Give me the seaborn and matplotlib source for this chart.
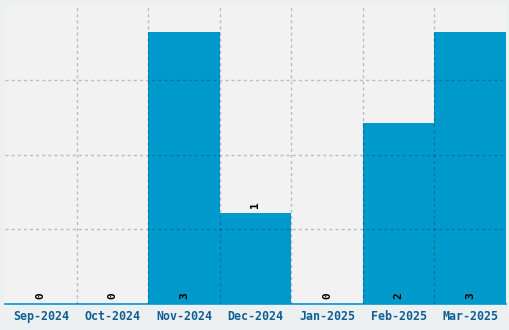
import matplotlib
matplotlib.use("Agg")
import matplotlib.pyplot as plt
import seaborn as sns
import numpy as np

months = ["Sep-2024", "Oct-2024", "Nov-2024", "Dec-2024", "Jan-2025", "Feb-2025", "Mar-2025"]
counts = [0, 0, 3, 1, 0, 2, 3]

sns.set_style("white")
plt.rcParams['font.family'] = ['DejaVu Sans Mono']

fig = plt.figure(figsize=(5.1, 3.3), dpi=100, facecolor="#ecf0f1")
ax = fig.add_axes([5/510, 26/330, 501/510, 299/330])
ax.set_facecolor("#f2f2f2")

bar_color = "#0099cc"
sns.barplot(x=months, y=counts, color=bar_color, width=1, saturation=1,
            linewidth=0, ax=ax)

ax.set_xlim(-0.5, len(months) - 0.5)
ax.set_ylim(0, 3.3)
ax.set_yticks(np.linspace(0, 3.3, 5)[1:4])
ax.set_yticklabels([])
ax.set_xticks(np.arange(0.5, len(months) - 0.5, 1), minor=True)
ax.tick_params(axis="both", which="both", length=0)
ax.tick_params(axis="x", which="major", pad=4, labelsize=8.4, labelcolor="#0f5f95")
for lab in ax.get_xticklabels():
    lab.set_fontweight("bold")
ax.set_xlabel("")
ax.set_ylabel("")

ax.grid(False)
dash = (0, (2.2, 2.2))
ax.grid(True, axis="x", which="minor", color="black", alpha=0.22, linestyle=dash, linewidth=1)
ax.grid(True, axis="y", which="major", color="black", alpha=0.22, linestyle=dash, linewidth=1)
ax.set_axisbelow(False)

for s in ["top", "right", "left"]:
    ax.spines[s].set_visible(False)
ax.spines["bottom"].set_color(bar_color)
ax.spines["bottom"].set_linewidth(1.2)

for i, v in enumerate(counts):
    if v == 1:
        ax.annotate(str(v), (i, v), xytext=(0, 4), textcoords="offset points",
                    rotation=90, ha="center", va="bottom", fontsize=8,
                    fontweight="bold", color="black")
    else:
        ax.annotate(str(v), (i, 0), xytext=(0, 3.5), textcoords="offset points",
                    rotation=90, ha="center", va="bottom", fontsize=8,
                    fontweight="bold", color="black")

fig.savefig("out.png", dpi=100, facecolor=fig.get_facecolor())
